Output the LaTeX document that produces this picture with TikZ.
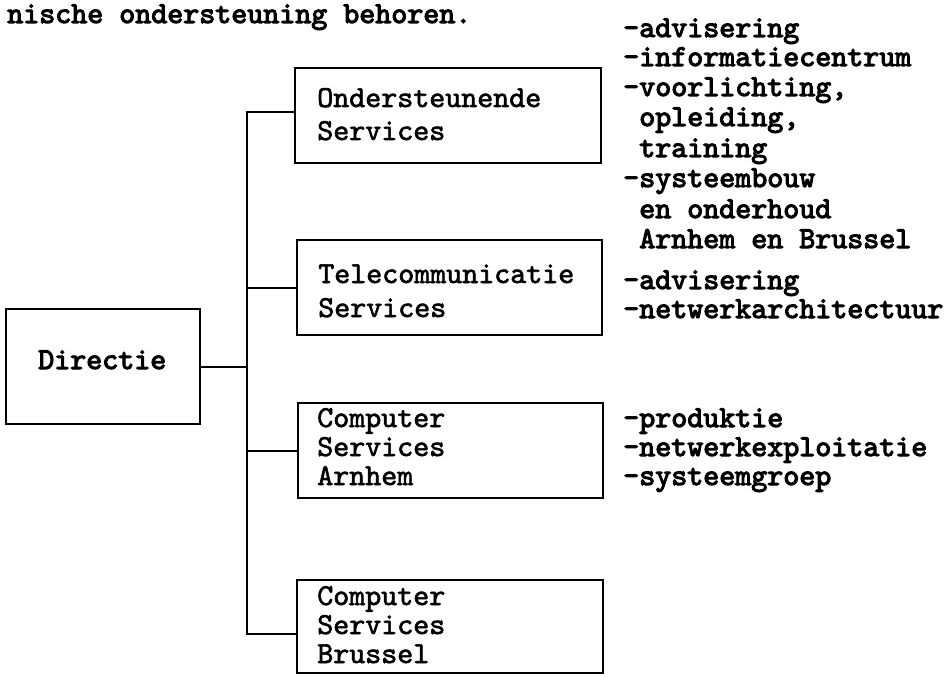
\documentclass[tikz,border=0pt]{standalone}
\usepackage{fontspec}
\usetikzlibrary{fit}
% serif typewriter faces: a medium weight for the boxes, a darker one for the notes
\newfontfamily\twmed{lmmono10-regular.otf}[FakeBold=2]
\newfontfamily\twbold{lmmono10-regular.otf}[FakeBold=3.5]
\tikzset{
  x=0.75pt, y=-0.75pt,
  box/.style={draw, line width=1.5pt, inner sep=0pt},
  wire/.style={line width=1.5pt, line join=miter},
  boxtext/.style={anchor=base west, inner sep=0pt, font=\twmed\fontsize{22.86}{26}\selectfont},
  note/.style={anchor=base west, inner sep=0pt, font=\twbold\fontsize{22.86}{26}\selectfont},
}
\begin{document}
\begin{tikzpicture}
\useasboundingbox (0,0) rectangle (952,677);

% heading line of the page
\node[note] (head) at (7,23) {nische ondersteuning behoren.};

% boxes
\coordinate (d1) at (6,309);   \coordinate (d2) at (200,424);
\coordinate (o1) at (295,68);  \coordinate (o2) at (601,163);
\coordinate (t1) at (297,240); \coordinate (t2) at (602,335);
\coordinate (a1) at (298,403); \coordinate (a2) at (603,498);
\coordinate (b1) at (297,580); \coordinate (b2) at (603,673);
\node[box, fit=(d1)(d2)] (dir) {};
\node[box, fit=(o1)(o2)] (os) {};
\node[box, fit=(t1)(t2)] (ts) {};
\node[box, fit=(a1)(a2)] (csa) {};
\node[box, fit=(b1)(b2)] (csb) {};

% box texts
\node[note] (dirlab) at (38,369) {Directie};
\node[boxtext] (os1) at (317,107) {Ondersteunende};
\node[boxtext] (os2) at (317,140) {Services};
\node[boxtext] (ts1) at (318,283) {Telecommunicatie};
\node[boxtext] (ts2) at (318,317) {Services};
\node[boxtext] (csa1) at (317,427) {Computer};
\node[boxtext] (csa2) at (317,456) {Services};
\node[boxtext] (csa3) at (317,485) {Arnhem};
\node[boxtext] (csb1) at (317,605) {Computer};
\node[boxtext] (csb2) at (317,634) {Services};
\node[boxtext] (csb3) at (317,663) {Brussel};

% connectors
\coordinate (jtop) at (247,112);
\coordinate (jbot) at (247,634);
\draw[wire] (jtop -| os.west) -- (jtop) -- (jbot) -- (jbot -| csb.west);
\draw[wire] (ts.west) -- (ts.west -| jtop);
\draw[wire] (csa.west) -- (csa.west -| jtop);
\draw[wire] (dir.east) -- (dir.east -| jtop);

% task lists
\foreach \x/\y/\t [count=\i] in {
  623/37/{-advisering},
  623/66/{-informatiecentrum},
  623/96/{-voorlichting,},
  639/126/{opleiding,},
  639/157/{training},
  623/187/{-systeembouw},
  639/218/{en onderhoud},
  639/248/{Arnhem en Brussel},
  623/289/{-advisering},
  623/318/{-netwerkarchitectuur},
  623/427/{-produktie},
  623/456/{-netwerkexploitatie},
  623/485/{-systeemgroep}}
  \node[note] (item\i) at (\x,\y) {\t};
\end{tikzpicture}
\end{document}
